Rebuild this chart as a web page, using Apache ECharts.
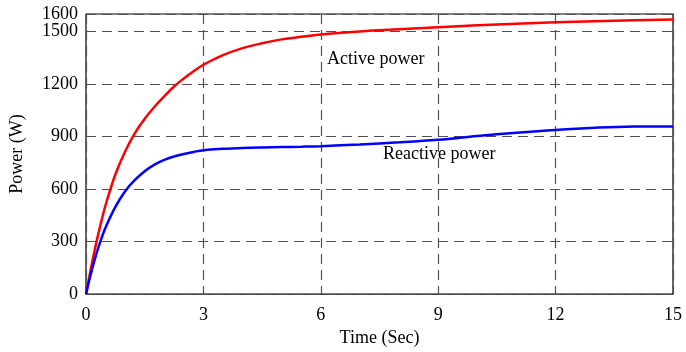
<!DOCTYPE html>
<html>
<head>
<meta charset="utf-8">
<script src="https://cdn.jsdelivr.net/npm/echarts@6/dist/echarts.min.js"></script>
<style>
    html, body { margin: 0; padding: 0; background: #fff; }
    #chart { width: 686px; height: 352px; }
</style>
</head>
<body>
<div id="chart"></div>
<script>
// time (sec)
var times = [0, 0.125, 0.25, 0.375, 0.5, 0.75, 1, 1.25, 1.5, 1.75, 2, 2.25, 2.5, 2.75, 3, 3.5, 4, 4.5, 5, 5.5, 6, 7, 8, 9, 10, 11, 12, 13, 14, 15];
// active power (W)
var activePower = [0, 145, 280, 400, 508, 683, 815, 920, 1002, 1070, 1130, 1186, 1232, 1273, 1310, 1365, 1405, 1433, 1455, 1470, 1483, 1500, 1513, 1525, 1536, 1545, 1553, 1559, 1564, 1568];
// reactive power (W)
var reactivePower = [0, 117, 218, 305, 380, 498, 588, 652, 702, 740, 767, 786, 800, 812, 822, 830, 835, 838, 840, 842, 845, 855, 867, 882, 903, 922, 938, 950, 957, 958];
// extra y tick label at the top of the axis
var yTopTick = 1600;

function pairs(xs, ys) {
    var out = [];
    for (var i = 0; i < xs.length; i++) {
        out.push([xs[i], ys[i]]);
    }
    return out;
}

var font = '"Liberation Serif", "DejaVu Serif", serif';
var chart = echarts.init(document.getElementById('chart'));

var gridLine = {
    show: true,
    lineStyle: { color: '#505050', width: 1.2, type: [10, 6] }
};
var labelStyle = { fontFamily: font, fontSize: 18, color: '#000', margin: 8 };

var option = {
    animation: false,
    grid: {
        left: 83, right: 13, top: 14, bottom: 55,
        show: true,
        borderColor: '#000',
        borderWidth: 1.2
    },
    xAxis: {
        type: 'value',
        min: 0, max: 15, interval: 3,
        name: 'Time (Sec)',
        nameLocation: 'middle',
        nameGap: 33,
        nameTextStyle: { fontFamily: font, fontSize: 18, color: '#000' },
        axisLine: { show: false },
        axisTick: { show: false },
        axisLabel: { fontFamily: font, fontSize: 18, color: '#000', margin: 12 },
        splitLine: gridLine
    },
    yAxis: [
        {
            type: 'value',
            min: 0, max: 1600, interval: 300,
            name: 'Power (W)',
            nameLocation: 'middle',
            nameGap: 60,
            nameTextStyle: { fontFamily: font, fontSize: 18, color: '#000' },
            axisLine: { show: false },
            axisTick: { show: false },
            axisLabel: Object.assign({
                formatter: function (v) { return v < yTopTick ? String(v) : ''; }
            }, labelStyle),
            splitLine: gridLine
        },
        {
            // only used to print the top label
            type: 'value',
            position: 'left',
            min: 0, max: 1600, interval: 100,
            axisLine: { show: false },
            axisTick: { show: false },
            splitLine: { show: false },
            axisLabel: Object.assign({
                formatter: function (v) { return v === yTopTick ? String(v) : ''; }
            }, labelStyle)
        }
    ],
    graphic: [
        {
            type: 'text', left: 327, top: 50,
            style: { text: 'Active power', fontFamily: font, fontSize: 18, fill: '#000' }
        },
        {
            type: 'text', left: 383, top: 145,
            style: { text: 'Reactive power', fontFamily: font, fontSize: 18, fill: '#000' }
        }
    ],
    series: [
        {
            name: 'Active power',
            type: 'line',
            smooth: 0.4,
            showSymbol: false,
            data: pairs(times, activePower),
            lineStyle: { color: '#ff0000', width: 2.5 }
        },
        {
            name: 'Reactive power',
            type: 'line',
            smooth: 0.4,
            showSymbol: false,
            data: pairs(times, reactivePower),
            lineStyle: { color: '#0000ff', width: 2.5 }
        }
    ]
};

chart.setOption(option);
</script>
</body>
</html>
